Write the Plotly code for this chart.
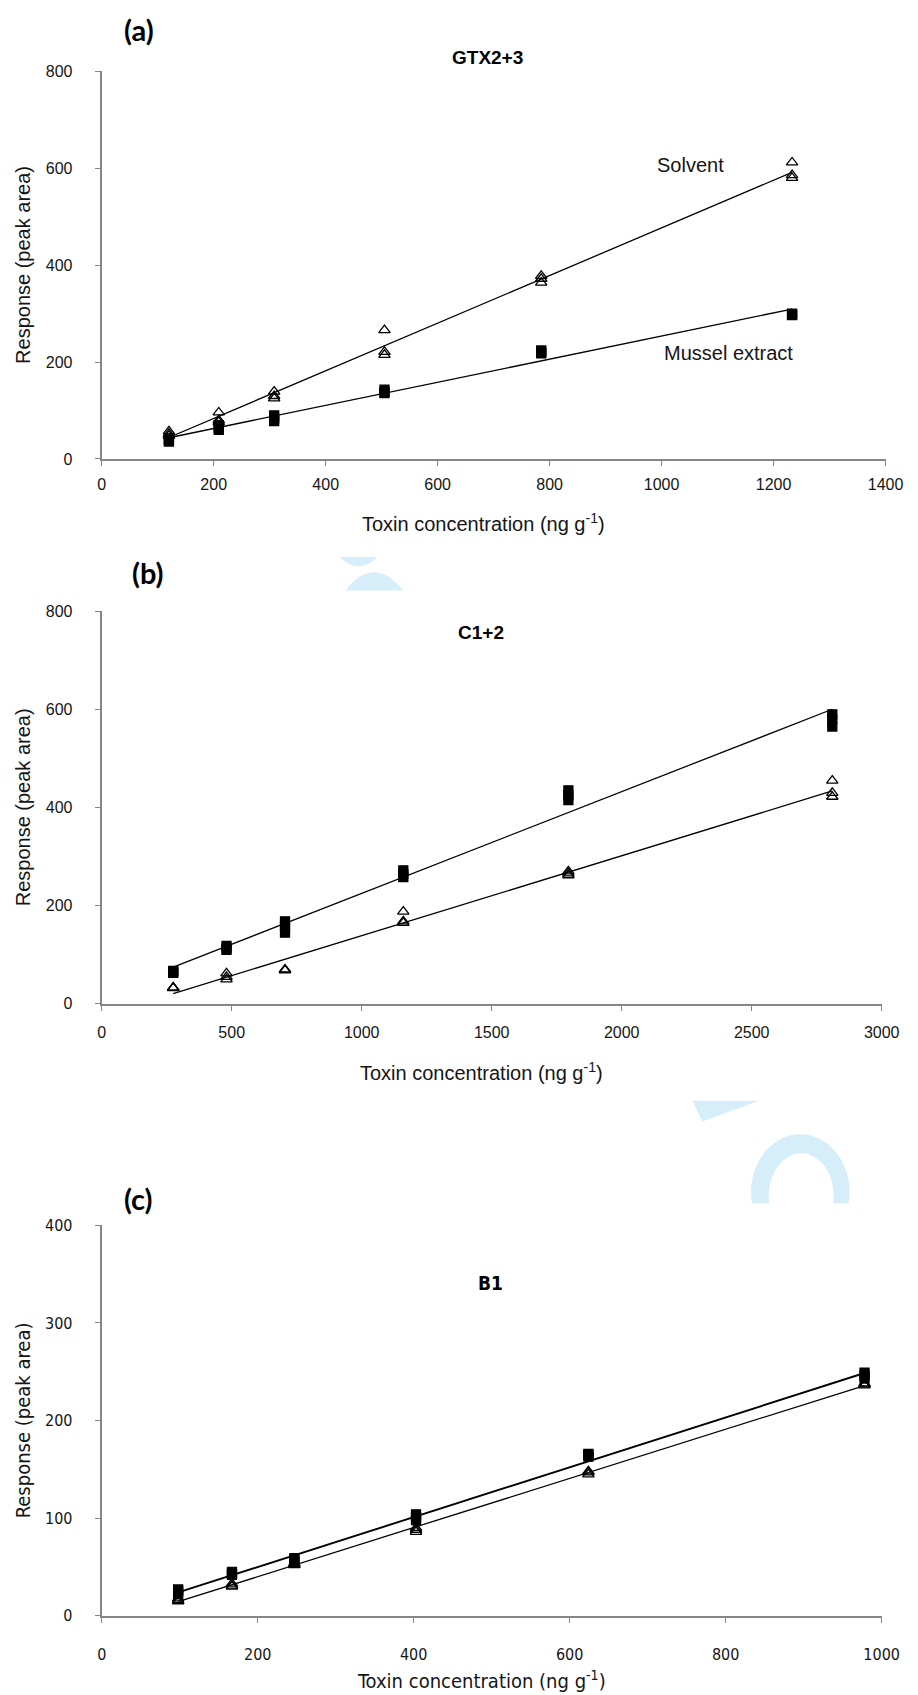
import numpy as np
import plotly.graph_objects as go

W, H = 918, 1695

# ---------------- data ----------------
# (a) GTX2+3
a_x_solvent = [120, 120, 120, 209, 209, 209, 308, 308, 308, 505, 505, 505, 785, 785, 785, 1233, 1233, 1233]
a_y_solvent = [57, 52, 48, 96, 80, 76, 139, 130, 125, 266, 221, 215, 378, 372, 364, 612, 586, 580]
a_x_mussel = [120, 120, 120, 209, 209, 209, 308, 308, 308, 505, 505, 505, 785, 785, 785, 1233, 1233, 1233]
a_y_mussel = [42, 38, 36, 70, 64, 60, 90, 84, 78, 143, 138, 136, 224, 220, 218, 300, 298, 297]

# (b) C1+2
b_x_mussel = [275, 275, 275, 480, 480, 480, 705, 705, 705, 1160, 1160, 1160, 1795, 1795, 1795, 2810, 2810, 2810]
b_y_mussel = [67, 65, 63, 118, 113, 110, 168, 158, 145, 272, 265, 258, 435, 425, 415, 590, 580, 565]
b_x_solvent = [275, 275, 275, 480, 480, 480, 705, 705, 705, 1160, 1160, 1160, 1795, 1795, 1795, 2810, 2810, 2810]
b_y_solvent = [33, 33, 32, 62, 55, 50, 70, 69, 68, 188, 168, 165, 270, 266, 262, 455, 430, 422]

# (c) B1
c_x_mussel = [98, 98, 98, 167, 167, 167, 247, 247, 247, 403, 403, 403, 624, 624, 624, 978, 978, 978]
c_y_mussel = [27, 25, 22, 45, 43, 42, 59, 57, 55, 104, 101, 98, 166, 165, 163, 249, 246, 243]
c_x_solvent = [98, 98, 98, 167, 167, 167, 247, 247, 247, 403, 403, 403, 624, 624, 624, 978, 978, 978]
c_y_solvent = [18, 16, 15, 33, 31, 30, 54, 53, 52, 90, 88, 86, 148, 147, 145, 238, 237, 236]

panel_titles = ["GTX2+3", "C1+2", "B1"]
panel_letters = ["(a)", "(b)", "(c)"]
x_ranges = [[0, 1400], [0, 3000], [0, 1000]]
x_dticks = [200, 500, 200]
y_ranges = [[0, 800], [0, 800], [0, 400]]
y_dticks = [200, 200, 100]
x_title = "Toxin concentration (ng g<sup>-1</sup>)"
y_title = "Response (peak area)"
series_labels = ["Solvent", "Mussel extract"]

# ---------------- layout geometry (pixels) ----------------
plot_left = 91
plot_right = [895, 891, 891]
panel_y = [(55, 447), (601, 998), (1222, 1617)]
letter_pos = [(129, 13), (138, 562), (129, 1195)]
title_pos = [(487, 41), (480, 622), (490, 1280)]
xtitle_y = [511, 1066, 1682]
xlabel_standoff = [5, 8, 18]


def px_x(x):
    return x / W


def px_y(y):
    return 1 - y / H


fig = go.Figure()

FONT = "Liberation Sans, Arial, sans-serif"
NARROW = "Liberation Sans Narrow, DejaVu Sans Condensed, Liberation Sans, Arial, sans-serif"
AXIS_COL = "#868686"
TXT = "#151515"

datasets = [
    (a_x_solvent, a_y_solvent, a_x_mussel, a_y_mussel),
    (b_x_solvent, b_y_solvent, b_x_mussel, b_y_mussel),
    (c_x_solvent, c_y_solvent, c_x_mussel, c_y_mussel),
]

for i, (xs, ys, xm, ym) in enumerate(datasets):
    sfx = "" if i == 0 else str(i + 1)
    xa, ya = "x" + sfx, "y" + sfx
    for xx, yy, sym, msize, lw in [(xs, ys, "triangle-up-open", 10, 1.3),
                                   (xm, ym, "square", 9, 1.9 if i == 2 else 1.3)]:
        xx = np.asarray(xx, float)
        yy = np.asarray(yy, float)
        k, b = np.polyfit(xx, yy, 1)
        xl = np.array([xx.min(), xx.max()])
        fig.add_trace(go.Scatter(x=xl, y=k * xl + b, mode="lines",
                                 line=dict(color="black", width=lw),
                                 xaxis=xa, yaxis=ya, showlegend=False, hoverinfo="skip"))
        fig.add_trace(go.Scatter(x=xx, y=yy, mode="markers",
                                 marker=dict(symbol=sym, size=msize, color="black",
                                             line=dict(color="black", width=1.3)),
                                 xaxis=xa, yaxis=ya, showlegend=False))

layout = dict(width=W, height=H, margin=dict(l=0, r=0, t=0, b=0),
              paper_bgcolor="white", plot_bgcolor="rgba(0,0,0,0)", showlegend=False)

annotations = []
for i in range(3):
    sfx = "" if i == 0 else str(i + 1)
    top, bot = panel_y[i]
    fnt = NARROW if i == 2 else FONT
    layout["xaxis" + sfx] = dict(
        domain=[px_x(plot_left), px_x(plot_right[i])], range=x_ranges[i], dtick=x_dticks[i],
        anchor="y" + sfx, showgrid=False, zeroline=False, showline=True,
        linecolor=AXIS_COL, linewidth=2, ticks="outside", ticklen=5, tickcolor=AXIS_COL,
        tickwidth=1, tickfont=dict(family=fnt, size=16, color=TXT),
        ticklabelstandoff=xlabel_standoff[i],
    )
    layout["yaxis" + sfx] = dict(
        domain=[px_y(bot), px_y(top)], range=y_ranges[i], dtick=y_dticks[i],
        anchor="x" + sfx, showgrid=False, zeroline=False, showline=True,
        linecolor=AXIS_COL, linewidth=2, ticks="outside", ticklen=5, tickcolor=AXIS_COL,
        tickwidth=1, tickfont=dict(family=fnt, size=16, color=TXT),
        ticklabelstandoff=19,
    )
    # axis titles
    annotations.append(dict(text=x_title, x=px_x((plot_left + plot_right[i]) / 2 - 10),
                            y=px_y(xtitle_y[i]), xref="paper", yref="paper", showarrow=False,
                            xanchor="center", yanchor="middle",
                            font=dict(family=fnt, size=20, color=TXT)))
    annotations.append(dict(text=y_title, x=px_x(10), y=px_y((top + bot) / 2),
                            xref="paper", yref="paper", showarrow=False, textangle=-90,
                            xanchor="center", yanchor="middle",
                            font=dict(family=fnt, size=20, color=TXT)))
    annotations.append(dict(text="<b>%s</b>" % panel_letters[i], x=px_x(letter_pos[i][0]),
                            y=px_y(letter_pos[i][1]), xref="paper", yref="paper",
                            showarrow=False, xanchor="center", yanchor="middle",
                            font=dict(family="Lato, Liberation Sans, sans-serif", size=29, color="black")))
    annotations.append(dict(text="<b>%s</b>" % panel_titles[i], x=px_x(title_pos[i][0]),
                            y=px_y(title_pos[i][1]), xref="paper", yref="paper",
                            showarrow=False, xanchor="center", yanchor="middle",
                            font=dict(family=fnt, size=19, color="black")))

# series labels in panel (a)
annotations.append(dict(text=series_labels[0], x=1052, y=607, xref="x", yref="y", showarrow=False,
                        font=dict(family=FONT, size=20, color=TXT)))
annotations.append(dict(text=series_labels[1], x=1120, y=218, xref="x", yref="y", showarrow=False,
                        font=dict(family=FONT, size=20, color=TXT)))

# overlay pixel axes for light-blue watermark fragments
layout["xaxis4"] = dict(domain=[0, 1], range=[0, W], visible=False, anchor="y4", fixedrange=True)
layout["yaxis4"] = dict(domain=[0, 1], range=[H, 0], visible=False, anchor="x4", fixedrange=True)
WM = "#d5eefa"
shapes = [
    dict(type="path", xref="x4", yref="y4", layer="below", fillcolor=WM, line=dict(width=0),
         path="M 335 546 L 374 546 Q 354 565 335 546 Z"),
    dict(type="path", xref="x4", yref="y4", layer="below", fillcolor=WM, line=dict(width=0),
         path="M 341 580 Q 370 543 400 580 Z"),
    dict(type="path", xref="x4", yref="y4", layer="below", fillcolor=WM, line=dict(width=0),
         path="M 697 1096 L 765 1096 L 707 1117 Z"),
    dict(type="circle", xref="x4", yref="y4", layer="below", fillcolor=WM, line=dict(width=0),
         x0=757, x1=858, y0=1130, y1=1246),
    dict(type="circle", xref="x4", yref="y4", layer="below", fillcolor="white", line=dict(width=0),
         x0=775, x1=842, y0=1149, y1=1237),
    dict(type="rect", xref="x4", yref="y4", layer="below", fillcolor="white", line=dict(width=0),
         x0=740, x1=880, y0=1200, y1=1262),
]
layout["shapes"] = shapes
layout["annotations"] = annotations
fig.update_layout(**layout)
fig.add_trace(go.Scatter(x=[0], y=[0], xaxis="x4", yaxis="y4", mode="markers",
                         marker=dict(size=1, opacity=0), showlegend=False, hoverinfo="skip"))

fig.write_html("out.html")
